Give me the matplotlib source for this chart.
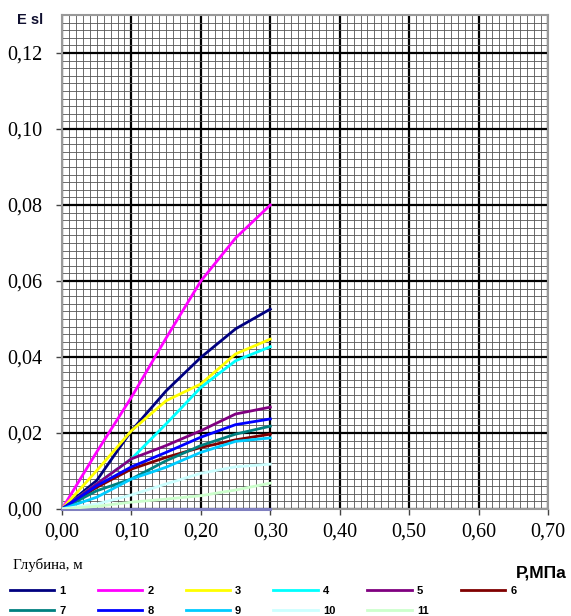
import numpy as np
import matplotlib
matplotlib.use('Agg')
import matplotlib.pyplot as plt
from matplotlib.ticker import MultipleLocator, FuncFormatter

# pressure steps, MPa
p = [0.00, 0.05, 0.10, 0.15, 0.20, 0.25, 0.30]

# relative subsidence for each depth (legend 1..11)
e1 = [0, 0.0075, 0.0206, 0.0311, 0.0399, 0.0474, 0.0526]
e2 = [0, 0.0150, 0.0294, 0.0450, 0.0600, 0.0713, 0.0800]
e3 = [0, 0.0101, 0.0206, 0.0285, 0.0329, 0.0408, 0.0447]
e4 = [0, 0.0066, 0.0132, 0.0224, 0.0320, 0.0390, 0.0427]
e5 = [0, 0.0066, 0.0132, 0.0167, 0.0206, 0.0250, 0.0268]
e6 = [0, 0.0057, 0.0105, 0.0136, 0.0162, 0.0182, 0.0197]
e7 = [0, 0.0048, 0.0079, 0.0127, 0.0167, 0.0197, 0.0218]
e8 = [0, 0.0061, 0.0111, 0.0149, 0.0189, 0.0222, 0.0237]
e9 = [0, 0.0031, 0.0079, 0.0110, 0.0149, 0.0178, 0.0187]
e10 = [0, 0.0013, 0.0037, 0.0066, 0.0094, 0.0111, 0.0118]
e11 = [0, 0.0007, 0.0018, 0.0026, 0.0035, 0.0050, 0.0068]
e_zero = [0, 0, 0, 0, 0, 0, 0]   # extra series lying on the axis

series = [e1, e2, e3, e4, e5, e6, e7, e8, e9, e10, e11]
labels = ['1', '2', '3', '4', '5', '6', '7', '8', '9', '10', '11']
colors = ['#000080', '#FF00FF', '#FFFF00', '#00FFFF', '#800080', '#800000',
          '#008080', '#0000FF', '#00CCFF', '#CCFFFF', '#CCFFCC']

fig = plt.figure(figsize=(5.71, 6.16), dpi=100)
ax = fig.add_axes([62/571, 1 - 509/616, 486/571, 494/616])

ax.set_xlim(0, 0.7)
ax.set_ylim(0, 0.13)
ax.xaxis.set_major_locator(MultipleLocator(0.1))
ax.xaxis.set_minor_locator(MultipleLocator(0.01))
ax.yaxis.set_major_locator(MultipleLocator(0.02))
ax.yaxis.set_minor_locator(MultipleLocator(0.002))

ax.grid(which='minor', color='#555555', lw=0.6)
ax.grid(which='major', color='black', lw=1.6)
ax.set_axisbelow(True)

fmt = FuncFormatter(lambda v, pos: ('%.2f' % v).replace('.', ','))
ax.xaxis.set_major_formatter(fmt)
ax.yaxis.set_major_formatter(fmt)
ax.tick_params(which='major', length=4, width=1, color='#444444',
               labelsize=14.5)
ax.tick_params(axis='y', pad=10)
ax.tick_params(axis='x', pad=6)
ax.tick_params(which='minor', length=0)
for lab in ax.get_xticklabels() + ax.get_yticklabels():
    lab.set_family('Liberation Serif')

for s in ax.spines.values():
    s.set_color('#999999')
    s.set_linewidth(1.5)

ax.plot(p, e_zero, color='#8080C0', lw=2.2, clip_on=False, zorder=3)
handles = []
for e, c, l in zip(series, colors, labels):
    h, = ax.plot(p, e, color=c, lw=2, label=l, zorder=4)
    handles.append(h)

fig.text(17/571, 1 - 20/616, 'E sl', fontsize=10.5, fontweight='bold',
         family='Liberation Sans', color='#101030', va='center')
fig.text(516/571, 1 - 573/616, 'P,МПа', fontsize=12.5, fontweight='bold',
         family='Liberation Sans', va='center')
fig.text(13/571, 1 - 565/616, 'Глубина, м', fontsize=10.8,
         family='Liberation Serif', va='center')

# reorder so that the legend reads row by row: 1..6 / 7..11
order = [0, 6, 1, 7, 2, 8, 3, 9, 4, 10, 5]
fig.legend([handles[i] for i in order], [labels[i] for i in order],
           ncol=6, loc='upper left', bbox_to_anchor=(2/571, 1 - 578/616),
           frameon=False, handlelength=4.0, handletextpad=0.45,
           columnspacing=2.9, labelspacing=0.9, borderaxespad=0.3,
           prop={'family': 'Liberation Sans', 'weight': 'bold', 'size': 8})

fig.savefig('out.png', dpi=100)
